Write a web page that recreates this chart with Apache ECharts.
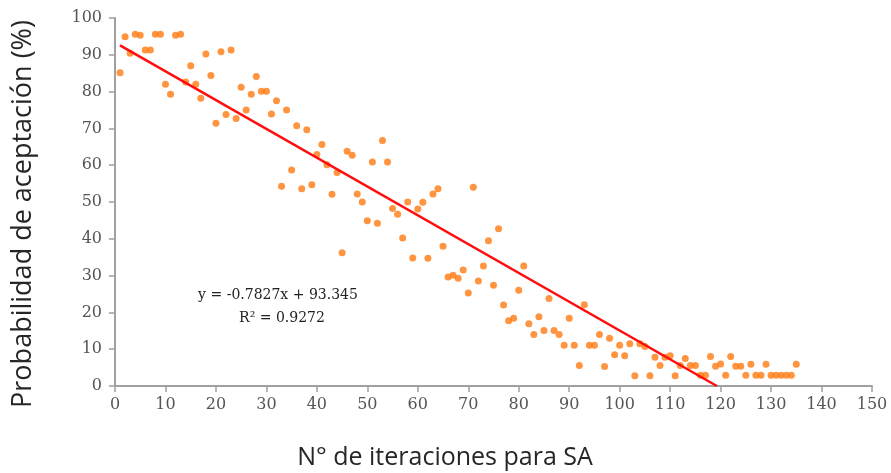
<!DOCTYPE html>
<html>
<head>
<meta charset="utf-8">
<script src="https://cdn.jsdelivr.net/npm/echarts@6/dist/echarts.min.js"></script>
<style>html,body{margin:0;padding:0;background:#fff}#c{width:891px;height:473px}</style>
</head>
<body>
<div id="c"></div>
<script>
// Iteration number (x) and acceptance probability % (y)
const iterations = [];
for (let i = 1; i <= 135; i++) iterations.push(i);
const acceptance = [
  85.1, 94.9, 90.4, 95.6, 95.3, 91.3, 91.3, 95.6, 95.6, 82.0,
  79.3, 95.3, 95.6, 82.6, 87.0, 82.0, 78.2, 90.2, 84.4, 71.4,
  90.8, 73.8, 91.3, 72.7, 81.2, 75.0, 79.3, 84.1, 80.1, 80.1,
  73.9, 77.5, 54.3, 75.0, 58.7, 70.7, 53.6, 69.6, 54.7, 62.9,
  65.6, 60.1, 52.1, 58.0, 36.2, 63.8, 62.7, 52.2, 50.0, 44.9,
  60.9, 44.2, 66.7, 60.9, 48.2, 46.7, 40.2, 50.0, 34.8, 48.1,
  49.9, 34.7, 52.2, 53.6, 38.0, 29.6, 30.1, 29.3, 31.5, 25.3,
  54.0, 28.5, 32.6, 39.5, 27.4, 42.7, 22.0, 17.7, 18.4, 26.0,
  32.6, 16.9, 14.0, 18.8, 15.1, 23.8, 15.1, 14.0, 11.1, 18.4,
  11.1, 5.6, 22.1, 11.1, 11.1, 14.0, 5.3, 13.0, 8.5, 11.1,
  8.2, 11.5, 2.8, 11.5, 10.7, 2.8, 7.8, 5.6, 7.8, 8.2,
  2.8, 5.6, 7.5, 5.6, 5.6, 2.9, 2.9, 8.0, 5.4, 6.0,
  2.9, 8.0, 5.4, 5.4, 2.9, 5.9, 2.9, 2.9, 5.9, 2.9,
  2.9, 2.9, 2.9, 2.9, 5.9
];
// Linear trend line given on the chart
const trendSlope = -0.7827;
const trendIntercept = 93.345;
const trendStartX = 1;
const trendEndX = -trendIntercept / trendSlope;
const xTicks = [0, 150, 10];
const yTicks = [0, 100, 10];
const equationLabel = 'y = -0.7827x + 93.345';
const r2Label = 'R² = 0.9272';
const xTitle = 'N° de iteraciones para SA';
const yTitle = 'Probabilidad de aceptación (%)';

const points = iterations.map((x, i) => [x, acceptance[i]]);
const trend = [
  [trendStartX, trendSlope * trendStartX + trendIntercept],
  [trendEndX, trendSlope * trendEndX + trendIntercept]
];

const chart = echarts.init(document.getElementById('c'));
const axisCommon = {
  axisLine: { show: true, lineStyle: { color: '#a0a0a0', width: 2 } },
  axisTick: { show: true, inside: false, length: 6, lineStyle: { color: '#a0a0a0', width: 1.5 } },
  splitLine: { show: false },
  axisLabel: { color: '#555', fontFamily: 'DejaVu Serif', fontSize: 16 }
};
chart.setOption({
  animation: false,
  grid: { left: 115, right: 19, top: 18, bottom: 87, containLabel: false },
  xAxis: Object.assign({
    type: 'value', min: xTicks[0], max: xTicks[1], interval: xTicks[2]
  }, axisCommon, { axisLabel: Object.assign({}, axisCommon.axisLabel, { margin: 11 }) }),
  yAxis: Object.assign({
    type: 'value', min: yTicks[0], max: yTicks[1], interval: yTicks[2]
  }, axisCommon, { axisLabel: Object.assign({}, axisCommon.axisLabel, { margin: 13 }) }),
  graphic: [
    { type: 'text', x: 445, y: 458, style: { text: xTitle, font: '25px "Open Sans"', fill: '#262626', textAlign: 'center', textVerticalAlign: 'middle' } },
    { type: 'text', x: 23, y: 214, rotation: Math.PI / 2, style: { text: yTitle, font: '27px "Open Sans"', fill: '#262626', textAlign: 'center', textVerticalAlign: 'middle' } },
    { type: 'text', x: 278, y: 295, style: { text: equationLabel, font: '14px "DejaVu Serif"', fill: '#222', textAlign: 'center', textVerticalAlign: 'middle' } },
    { type: 'text', x: 282, y: 318, style: { text: r2Label, font: '14px "DejaVu Serif"', fill: '#222', textAlign: 'center', textVerticalAlign: 'middle' } }
  ],
  series: [
    {
      type: 'scatter', data: points, symbol: 'circle', symbolSize: 7,
      itemStyle: { color: '#ff7a12' }, z: 2
    },
    {
      type: 'line', data: trend, symbol: 'none',
      lineStyle: { color: '#ff0d0d', width: 2.5 }, z: 3
    }
  ]
});
</script>
</body>
</html>
